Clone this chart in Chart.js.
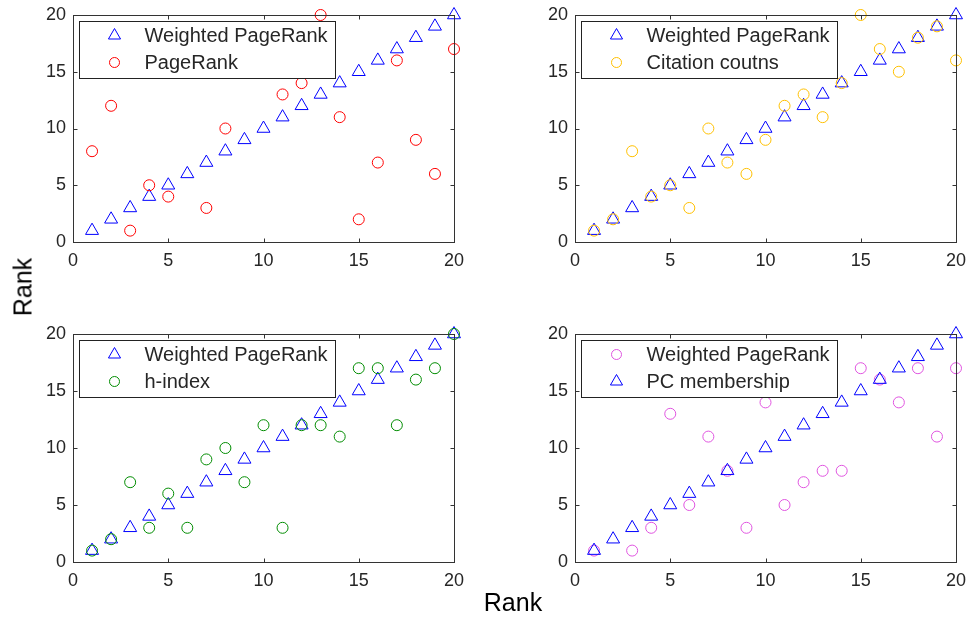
<!DOCTYPE html>
<html>
<head>
<meta charset="utf-8">
<script src="https://cdn.jsdelivr.net/npm/chart.js@4.4.1/dist/chart.umd.min.js"></script>
<style>
  body { margin: 0; background: #fff; width: 969px; height: 618px; overflow: hidden; position: relative;
         font-family: "Liberation Sans", Arial, sans-serif; }
  canvas { position: absolute; }
  .lbl { position: absolute; font-size: 25px; line-height: 25px; color: #000; white-space: nowrap; }
</style>
</head>
<body>
<canvas id="c1" width="438" height="269" style="left:28px;top:3px"></canvas>
<canvas id="c2" width="438" height="269" style="left:530px;top:3px"></canvas>
<canvas id="c3" width="438" height="270" style="left:28px;top:322px"></canvas>
<canvas id="c4" width="438" height="270" style="left:530px;top:322px"></canvas>
<div class="lbl" style="left:513px;top:590px;transform:translateX(-50%)">Rank</div>
<div class="lbl" style="left:23px;top:287px;transform:translate(-50%,-50%) rotate(-90deg)">Rank</div>
<script>
// ranks of the 20 authors (x axis)
const ranks = [1, 2, 3, 4, 5, 6, 7, 8, 9, 10, 11, 12, 13, 14, 15, 16, 17, 18, 19, 20];
const weightedPageRank = [1, 2, 3, 4, 5, 6, 7, 8, 9, 10, 11, 12, 13, 14, 15, 16, 17, 18, 19, 20];
// x=6,9,10 sit behind the legend box in the original
const pageRank = [8, 12, 1, 5, 4, 18, 3, 10, 15, 16, 13, 14, 20, 11, 2, 7, 16, 9, 6, 17];
const citationCounts = [1, 2, 8, 4, 5, 3, 10, 7, 6, 9, 12, 13, 11, 14, 20, 17, 15, 18, 19, 16];
const hIndex = [1, 2, 7, 3, 6, 3, 9, 10, 7, 12, 3, 12, 12, 11, 17, 17, 12, 16, 17, 20];
// 4th panel: the circles are labelled "Weighted PageRank" in the original legend
const pcMembership = [1, 18, 1, 3, 13, 5, 11, 8, 3, 14, 5, 7, 8, 8, 17, 16, 14, 17, 11, 17];
const axisTicks = [0, 5, 10, 15, 20];

const BLUE = '#0000ff', RED = '#ff0000', ORANGE = '#ffc000', GREEN = '#008c00', PINK = '#e055e0';
const FONT = '"Liberation Sans", Arial, sans-serif';

function pts(ys) {
    return ranks.map((x, i) => ({ x: x, y: ys[i] }));
}

function series(label, ys, color, style) {
    return {
        label: label,
        data: pts(ys),
        pointStyle: style,
        pointRadius: style === 'triangle' ? 7.5 : 5.5,
        pointHoverRadius: style === 'triangle' ? 7.5 : 5.5,
        borderColor: color,
        backgroundColor: 'rgba(0,0,0,0)',
        pointBorderWidth: 1,
        clip: false
    };
}

// legend box inside the axes, drawn over the points like the original
const insideLegend = {
    id: 'insideLegend',
    afterDatasetsDraw(chart) {
        const items = chart.options.plugins.insideLegend.items;
        const ctx = chart.ctx;
        const a = chart.chartArea;
        const lx = Math.round(a.left) + 6.5, ly = Math.round(a.top) + 6.5;
        ctx.save();
        ctx.fillStyle = '#fff';
        ctx.strokeStyle = '#222';
        ctx.lineWidth = 1;
        ctx.fillRect(lx, ly, 256, 57);
        ctx.strokeRect(lx, ly, 256, 57);
        items.forEach((it, i) => {
            const y = ly + 14 + i * 27;
            ctx.strokeStyle = it.color;
            ctx.fillStyle = 'rgba(0,0,0,0)';
            ctx.lineWidth = 1;
            Chart.helpers.drawPoint(ctx, {
                pointStyle: it.style,
                radius: it.style === 'triangle' ? 7 : 5,
                borderWidth: 1,
                rotation: 0
            }, lx + 35, y);
            ctx.fillStyle = '#262626';
            ctx.font = '20px ' + FONT;
            ctx.textBaseline = 'middle';
            ctx.fillText(it.label, lx + 65, y + 1);
        });
        ctx.restore();
    },
    afterDraw(chart) {
        // axes box with inward ticks on all four sides
        const ctx = chart.ctx;
        const xs = chart.scales.x, ys = chart.scales.y;
        const l = Math.round(xs.getPixelForValue(0)) + 0.5;
        const r = Math.round(xs.getPixelForValue(20)) + 0.5;
        const t = Math.round(ys.getPixelForValue(20)) + 0.5;
        const b = Math.round(ys.getPixelForValue(0)) + 0.5;
        ctx.save();
        ctx.strokeStyle = '#333';
        ctx.lineWidth = 1;
        ctx.strokeRect(l, t, r - l, b - t);
        ctx.beginPath();
        axisTicks.forEach(v => {
            const px = Math.round(xs.getPixelForValue(v)) + 0.5;
            ctx.moveTo(px, b); ctx.lineTo(px, b - 4);
            ctx.moveTo(px, t); ctx.lineTo(px, t + 4);
            const py = Math.round(ys.getPixelForValue(v)) + 0.5;
            ctx.moveTo(l, py); ctx.lineTo(l + 4, py);
            ctx.moveTo(r, py); ctx.lineTo(r - 4, py);
        });
        ctx.stroke();
        ctx.restore();
    }
};

function makeChart(id, datasets, legendItems) {
    const tickFont = { family: FONT, size: 18 };
    return new Chart(document.getElementById(id), {
        type: 'scatter',
        data: { datasets: datasets },
        options: {
            responsive: false,
            animation: false,
            layout: { padding: { left: 0, right: 12, top: 12, bottom: 0 } },
            plugins: {
                legend: { display: false },
                tooltip: { enabled: false },
                insideLegend: { items: legendItems }
            },
            scales: {
                x: {
                    type: 'linear', min: 0, max: 20,
                    grid: { display: false, drawTicks: false },
                    border: { display: false },
                    ticks: { stepSize: 5, color: '#262626', font: tickFont, padding: 8, maxRotation: 0 },
                    afterFit(s) { s.height = 30; s.paddingLeft = 0; s.paddingRight = 0; }
                },
                y: {
                    type: 'linear', min: 0, max: 20,
                    grid: { display: false, drawTicks: false },
                    border: { display: false },
                    ticks: { stepSize: 5, color: '#262626', font: tickFont, padding: 7 },
                    afterFit(s) { s.width = 45; s.paddingTop = 0; s.paddingBottom = 0; }
                }
            }
        },
        plugins: [insideLegend]
    });
}

makeChart('c1',
    [series('PageRank', pageRank, RED, 'circle'),
     series('Weighted PageRank', weightedPageRank, BLUE, 'triangle')],
    [{ label: 'Weighted PageRank', color: BLUE, style: 'triangle' },
     { label: 'PageRank', color: RED, style: 'circle' }]);

makeChart('c2',
    [series('Citation coutns', citationCounts, ORANGE, 'circle'),
     series('Weighted PageRank', weightedPageRank, BLUE, 'triangle')],
    [{ label: 'Weighted PageRank', color: BLUE, style: 'triangle' },
     { label: 'Citation coutns', color: ORANGE, style: 'circle' }]);

makeChart('c3',
    [series('h-index', hIndex, GREEN, 'circle'),
     series('Weighted PageRank', weightedPageRank, BLUE, 'triangle')],
    [{ label: 'Weighted PageRank', color: BLUE, style: 'triangle' },
     { label: 'h-index', color: GREEN, style: 'circle' }]);

makeChart('c4',
    [series('PC membership', weightedPageRank, BLUE, 'triangle'),
     series('Weighted PageRank', pcMembership, PINK, 'circle')],
    [{ label: 'Weighted PageRank', color: PINK, style: 'circle' },
     { label: 'PC membership', color: BLUE, style: 'triangle' }]);
</script>
</body>
</html>
